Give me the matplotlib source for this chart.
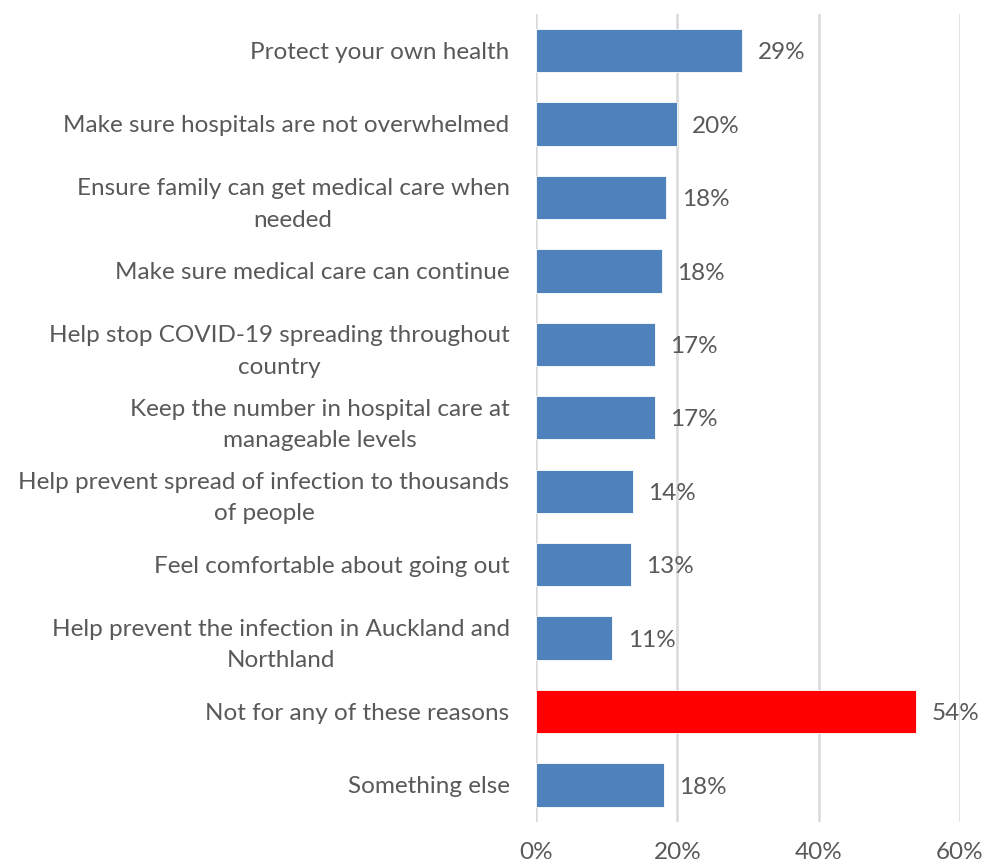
import matplotlib
matplotlib.use("Agg")
import matplotlib.pyplot as plt

categories = [
    "Protect your own health",
    "Make sure hospitals are not overwhelmed",
    "Ensure family can get medical care when\nneeded",
    "Make sure medical care can continue",
    "Help stop COVID-19 spreading throughout\ncountry",
    "Keep the number in hospital care at\nmanageable levels",
    "Help prevent spread of infection to thousands\nof people",
    "Feel comfortable about going out",
    "Help prevent the infection in Auckland and\nNorthland",
    "Not for any of these reasons",
    "Something else",
]
values = [29.2, 19.9, 18.4, 17.8, 16.8, 16.8, 13.7, 13.4, 10.8, 53.8, 18.1]
highlight = "Not for any of these reasons"
x_ticks = [0, 20, 40, 60]

BLUE = "#4F81BD"
RED = "#FF0000"
TEXT = "#595959"
GRID = "#D9D9D9"
FS = 17.5

plt.rcParams["font.family"] = ["Lato", "DejaVu Sans"]

fig = plt.figure(figsize=(9.84, 8.64), dpi=100)
ax = fig.add_axes([0.5447, 0.049, 0.4309, 0.935])

ypos = list(range(len(categories)))
colors = [RED if c == highlight else BLUE for c in categories]
ax.barh(ypos, values, height=0.59, color=colors, edgecolor="white", linewidth=0.6, zorder=3)

for y, v in zip(ypos, values):
    ax.text(v + 2.2, y + 0.03, f"{v:.0f}%", va="center", ha="left", fontsize=FS, color=TEXT)

ax.set_ylim(len(categories) - 0.5, -0.5)
ax.set_xlim(0, 60)
ax.set_xticks(x_ticks)
ax.set_xticklabels([f"{t}%" for t in x_ticks], fontsize=FS, color=TEXT)
ax.set_yticks(ypos)
ax.set_yticklabels(categories, fontsize=FS, color=TEXT, multialignment="center",
                   linespacing=1.6)
ax.tick_params(axis="both", length=0)
ax.tick_params(axis="y", pad=19)
ax.tick_params(axis="x", pad=15)

ax.grid(axis="x", color=GRID, linewidth=1.8, zorder=0)
for s in ax.spines.values():
    s.set_visible(False)

fig.savefig("out.png", dpi=100, facecolor="white")
